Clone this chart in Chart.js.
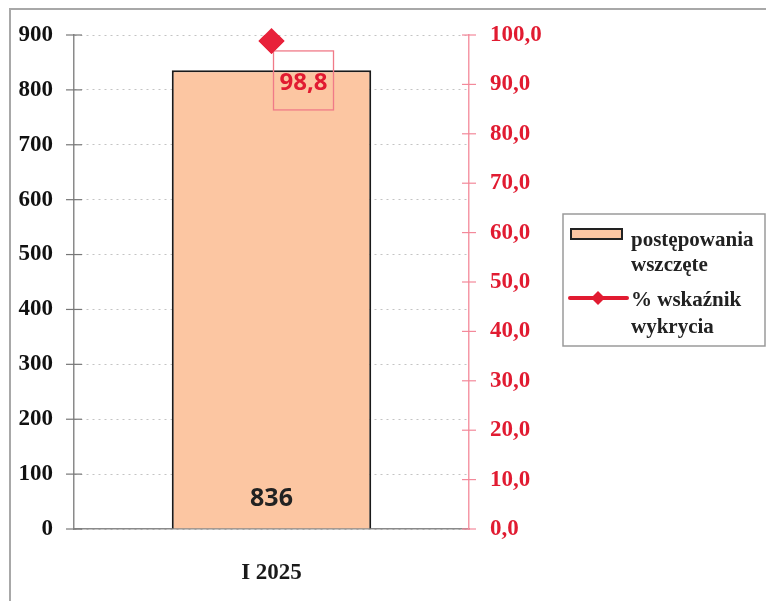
<!DOCTYPE html>
<html>
<head>
<meta charset="utf-8">
<script src="https://cdn.jsdelivr.net/npm/chart.js@4.4.1/dist/chart.umd.min.js"></script>
<style>
  html, body { margin: 0; padding: 0; background: #fff; }
  #wrap { position: relative; width: 766px; height: 601px; }
</style>
</head>
<body>
<div id="wrap"><canvas id="chart" width="766" height="601"></canvas></div>
<script>
// data
var categories = ["I 2025"];
var cases = [836];            // postępowania wszczęte
var detection = [98.8];       // % wskaźnik wykrycia
var leftTicks = [0, 100, 200, 300, 400, 500, 600, 700, 800, 900];
var rightTicks = [0, 10, 20, 30, 40, 50, 60, 70, 80, 90, 100];

var RED = "#e11b31";
var PEACH = "#fcc6a2";
var SERIF = "'Liberation Serif', 'DejaVu Serif', serif";
var SANS = "'Noto Sans', 'Open Sans', sans-serif";

function fmtPL(v) {
  return v.toFixed(1).replace(".", ",");
}

/* extras: frame, cross ticks, data labels, legend */
var extras = {
  id: "extras",
  afterDraw: function (chart) {
    var ctx = chart.ctx;
    var y = chart.scales.y, y1 = chart.scales.y1;
    var area = chart.chartArea;
    ctx.save();

    // scan frame (top + left edge)
    ctx.strokeStyle = "#a8a8a8";
    ctx.lineWidth = 2;
    ctx.beginPath();
    ctx.moveTo(10, 601); ctx.lineTo(10, 9); ctx.lineTo(766, 9);
    ctx.stroke();

    // tick marks crossing the axes
    ctx.lineWidth = 1.2;
    ctx.strokeStyle = "#777";
    leftTicks.forEach(function (t) {
      var py = y.getPixelForValue(t);
      ctx.beginPath(); ctx.moveTo(area.left - 8, py); ctx.lineTo(area.left + 8, py); ctx.stroke();
    });
    ctx.strokeStyle = "#f3899a";
    rightTicks.forEach(function (t) {
      var py = y1.getPixelForValue(t);
      ctx.beginPath(); ctx.moveTo(area.right - 7, py); ctx.lineTo(area.right + 7, py); ctx.stroke();
    });

    // bar value label
    var bar = chart.getDatasetMeta(0).data[0];
    ctx.fillStyle = "#222";
    ctx.font = "bold 25px " + SANS;
    ctx.textAlign = "center";
    ctx.textBaseline = "middle";
    ctx.fillText(String(cases[0]), bar.x, y.getPixelForValue(0) - 30);

    // line value label in a box with leader
    var pt = chart.getDatasetMeta(1).data[0];
    var bx = pt.x + 2, by = pt.y + 10, bw = 60, bh = 59;
    ctx.strokeStyle = "#f07a88";
    ctx.lineWidth = 1.3;
    ctx.strokeRect(bx, by, bw, bh);
    ctx.fillStyle = RED;
    ctx.font = "bold 24px " + SANS;
    ctx.fillText(fmtPL(detection[0]), bx + bw / 2, by + 32);

    // redraw diamond on top of box corner
    pt.draw(ctx);

    // legend
    var lx = 563, ly = 214;
    ctx.strokeStyle = "#9a9a9a";
    ctx.lineWidth = 1.5;
    ctx.strokeRect(lx, ly, 202, 132);
    ctx.fillStyle = PEACH;
    ctx.fillRect(lx + 8, ly + 15, 51, 10);
    ctx.strokeStyle = "#222";
    ctx.lineWidth = 2;
    ctx.strokeRect(lx + 8, ly + 15, 51, 10);
    ctx.strokeStyle = RED;
    ctx.lineWidth = 4;
    ctx.lineCap = "round";
    ctx.beginPath(); ctx.moveTo(lx + 7, ly + 84); ctx.lineTo(lx + 64, ly + 84); ctx.stroke();
    ctx.fillStyle = RED;
    ctx.beginPath();
    ctx.moveTo(lx + 35, ly + 77); ctx.lineTo(lx + 42, ly + 84);
    ctx.lineTo(lx + 35, ly + 91); ctx.lineTo(lx + 28, ly + 84);
    ctx.closePath(); ctx.fill();
    ctx.fillStyle = "#222";
    ctx.font = "bold 21px " + SERIF;
    ctx.textAlign = "left";
    var labels = chart.data.datasets.map(function (d) { return d.label; });
    ctx.fillText(labels[0][0], lx + 68, ly + 27);
    ctx.fillText(labels[0][1], lx + 68, ly + 52);
    ctx.fillText(labels[1][0], lx + 68, ly + 87);
    ctx.fillText(labels[1][1], lx + 68, ly + 114);
    ctx.restore();
  }
};

var ctx = document.getElementById("chart");
var myChart = new Chart(ctx, {
  data: {
    labels: categories,
    datasets: [
      {
        type: "bar",
        label: ["postępowania", "wszczęte"],
        data: cases,
        backgroundColor: PEACH,
        borderColor: "#1a1a1a",
        borderWidth: 2,
        categoryPercentage: 1.0,
        barPercentage: 0.505,
        yAxisID: "y",
        order: 2
      },
      {
        type: "line",
        label: ["% wskaźnik", "wykrycia"],
        data: detection,
        borderColor: RED,
        backgroundColor: "#e8213a",
        pointStyle: "rectRot",
        pointRadius: 13,
        pointBorderWidth: 0,
        yAxisID: "y1",
        order: 1
      }
    ]
  },
  options: {
    responsive: false,
    animation: false,
    layout: { padding: { left: 0, top: 35, right: 0, bottom: 0 } },
    plugins: {
      legend: { display: false },
      tooltip: { enabled: false }
    },
    scales: {
      x: {
        grid: { display: false },
        border: { color: "#8a8a8a", width: 1.5 },
        ticks: {
          color: "#1a1a1a",
          font: { family: SERIF, size: 23, weight: "bold" },
          padding: 22
        },
        afterFit: function (s) { s.height = 72; }
      },
      y: {
        position: "left",
        min: 0,
        max: 900,
        afterBuildTicks: function (s) { s.ticks = leftTicks.map(function (v) { return { value: v }; }); },
        grid: { color: "#c4c4c4", lineWidth: 1, drawTicks: false },
        border: { color: "#8a8a8a", width: 1.5, dash: [2, 4] },
        ticks: {
          color: "#111",
          font: { family: SERIF, size: 23, weight: "bold" },
          padding: 21
        },
        afterFit: function (s) { s.width = 74; }
      },
      y1: {
        position: "right",
        min: 0,
        max: 100,
        afterBuildTicks: function (s) { s.ticks = rightTicks.map(function (v) { return { value: v }; }); },
        grid: { drawOnChartArea: false, drawTicks: false },
        border: { color: "#f598a6", width: 1.5 },
        ticks: {
          color: RED,
          font: { family: SERIF, size: 23, weight: "bold" },
          padding: 21,
          callback: function (v) { return fmtPL(v); }
        },
        afterFit: function (s) { s.width = 297; }
      }
    }
  },
  plugins: [extras]
});
</script>
</body>
</html>
